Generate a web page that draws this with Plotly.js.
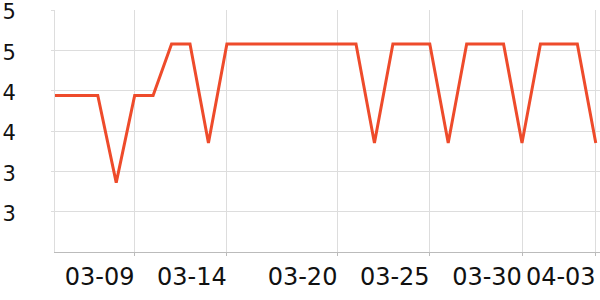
<!DOCTYPE html>
<html>
<head>
<meta charset="utf-8">
<script src="https://cdn.plot.ly/plotly-3.0.1.min.js"></script>
<style>html,body{margin:0;padding:0;background:#fff;}#chart{width:600px;height:300px;}</style>
</head>
<body>
<div id="chart"></div>
<script>
// Daily values (03-04 is only partly visible at the left edge)
const dates = [
  '2024-03-04','2024-03-05','2024-03-06','2024-03-07','2024-03-08','2024-03-09',
  '2024-03-10','2024-03-11','2024-03-12','2024-03-13','2024-03-14','2024-03-15',
  '2024-03-16','2024-03-17','2024-03-18','2024-03-19','2024-03-20','2024-03-21',
  '2024-03-22','2024-03-23','2024-03-24','2024-03-25','2024-03-26','2024-03-27',
  '2024-03-28','2024-03-29','2024-03-30','2024-03-31','2024-04-01','2024-04-02',
  '2024-04-03'
];
const values = [
  3.94, 3.94, 3.94, 3.94, 2.86, 3.94,
  3.94, 4.58, 4.58, 3.35, 4.58, 4.58,
  4.58, 4.58, 4.58, 4.58, 4.58, 4.58,
  3.35, 4.58, 4.58, 4.58, 3.35, 4.58,
  4.58, 4.58, 3.35, 4.58, 4.58, 4.58,
  3.35
];
const xTickVals = ['2024-03-09','2024-03-14','2024-03-20','2024-03-25','2024-03-30','2024-04-03'];
const xTickText = ['03-09','03-14','03-20','03-25','03-30','04-03'];
const yTickVals = [2.5, 3, 3.5, 4, 4.5, 5];
const yTickText = ['3', '3', '4', '4', '5', '5'];

const trace = {
  x: dates,
  y: values,
  type: 'scatter',
  mode: 'lines',
  line: {color: '#ee4b2b', width: 3},
  hoverinfo: 'skip'
};

const layout = {
  width: 600,
  height: 300,
  margin: {l: 55, r: 0, t: 10, b: 48},
  paper_bgcolor: '#ffffff',
  plot_bgcolor: '#ffffff',
  showlegend: false,
  font: {family: 'DejaVu Sans', color: '#111111'},
  xaxis: {
    type: 'date',
    range: ['2024-03-04 16:20', '2024-04-03 05:30'],
    tickvals: xTickVals,
    ticktext: xTickText,
    tickfont: {size: 24, family: 'DejaVu Sans', color: '#111111'},
    ticklabelshift: -35,
    ticklabeloverflow: 'allow',
    ticks: 'outside',
    ticklen: 3,
    tickcolor: '#bbbbbb',
    showline: true,
    linecolor: '#bbbbbb',
    linewidth: 1,
    showgrid: true,
    gridcolor: '#dddddd',
    gridwidth: 1,
    zeroline: false,
    fixedrange: true
  },
  yaxis: {
    range: [2, 5],
    tickvals: yTickVals,
    ticktext: yTickText,
    tickfont: {size: 21, family: 'DejaVu Sans', color: '#111111'},
    ticklabeloverflow: 'allow',
    ticklabelshift: 2,
    ticks: 'outside',
    ticklen: 3,
    tickcolor: '#dddddd',
    ticklabelstandoff: 31,
    showline: true,
    linecolor: '#dddddd',
    linewidth: 1,
    showgrid: true,
    gridcolor: '#dddddd',
    gridwidth: 1,
    zeroline: false,
    fixedrange: true
  }
};

Plotly.newPlot('chart', [trace], layout, {displayModeBar: false, staticPlot: true});
</script>
</body>
</html>
